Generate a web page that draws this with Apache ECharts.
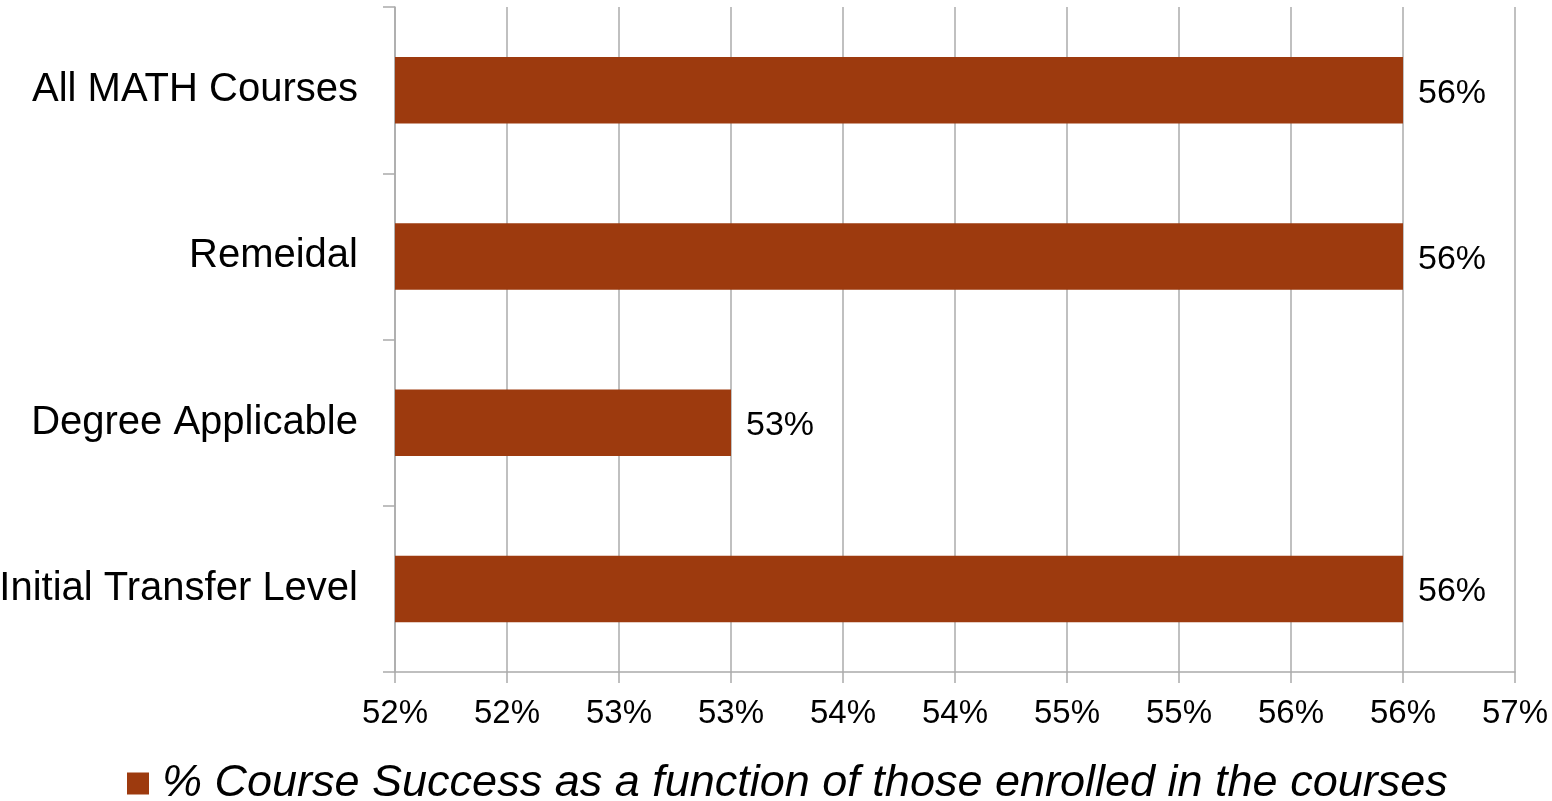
<!DOCTYPE html>
<html>
<head>
<meta charset="utf-8">
<script src="https://cdn.jsdelivr.net/npm/echarts@6/dist/echarts.min.js"></script>
<style>
html,body{margin:0;padding:0;background:#fff;}
#chart{width:1552px;height:801px;}
</style>
</head>
<body>
<div id="chart"></div>
<script>
const categories = ["All MATH Courses", "Remeidal", "Degree Applicable", "Initial Transfer Level"];
const successValues = [56, 56, 53, 56];
const seriesName = "% Course Success as a function of those enrolled in the courses";
const axisMin = 51.5, axisMax = 56.5, axisStep = 0.5;

const FONT = "'Liberation Sans', Arial, sans-serif";
const GRID_COLOR = '#ABABAB';
const chart = echarts.init(document.getElementById('chart'));
chart.setOption({
  animation: false,
  backgroundColor: '#fff',
  grid: { left: 395, right: 37, top: 7, bottom: 129, containLabel: false, outerBoundsMode: 'none' },
  legend: {
    data: [seriesName],
    left: 122, top: 756,
    icon: 'rect', itemWidth: 22, itemHeight: 22, itemGap: 10,
    textStyle: { fontFamily: FONT, fontSize: 45, fontStyle: 'italic', color: '#000', lineHeight: 45, padding: [0,0,0,8] }
  },
  xAxis: {
    type: 'value', min: axisMin, max: axisMax, interval: axisStep,
    axisLine: { show: true, lineStyle: { color: GRID_COLOR, width: 1.5 } },
    axisTick: { show: true, length: 11, lineStyle: { color: GRID_COLOR, width: 1.5 } },
    splitLine: { show: true, lineStyle: { color: GRID_COLOR, width: 1.5 } },
    axisLabel: { fontFamily: FONT, fontSize: 33, color: '#000', margin: 25,
      formatter: v => Math.round(v) + '%' }
  },
  yAxis: {
    type: 'category', data: categories, inverse: true,
    axisLine: { show: true, lineStyle: { color: GRID_COLOR, width: 1.5 } },
    axisTick: { show: true, length: 12, lineStyle: { color: GRID_COLOR, width: 1.5 } },
    axisLabel: { fontFamily: FONT, fontSize: 40, color: '#000', margin: 37, lineHeight: 40, padding: [6,0,0,0] }
  },
  series: [{
    name: seriesName, type: 'bar', data: successValues,
    barWidth: '40%',
    itemStyle: { color: '#9D3A0E' },
    label: { show: true, position: 'right', distance: 15, offset: [0, 3], fontFamily: FONT, fontSize: 34, color: '#000',
      formatter: p => Math.round(p.value) + '%' }
  }]
});
</script>
</body>
</html>
